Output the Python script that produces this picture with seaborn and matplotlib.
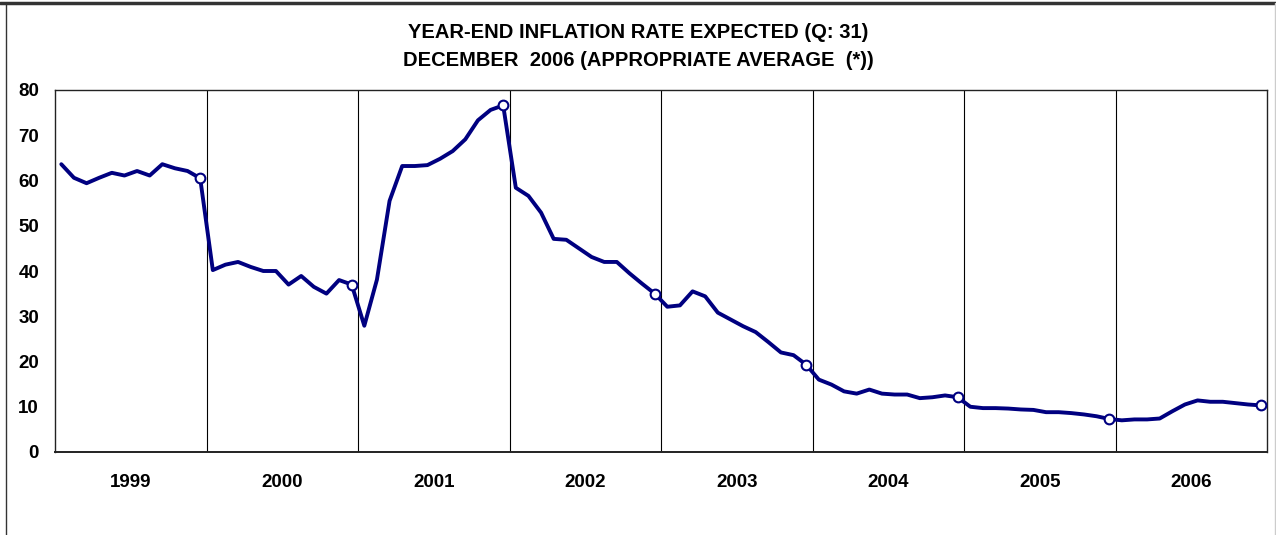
import numpy as np
import pandas as pd
import matplotlib
matplotlib.use('Agg')
import matplotlib.pyplot as plt
from matplotlib.lines import Line2D
import seaborn as sns

# Datos (valores mensuales, enero-diciembre de cada año).
years = ['1999', '2000', '2001', '2002', '2003', '2004', '2005', '2006']
v1999 = [63.6, 60.6, 59.4, 60.6, 61.7, 61.1, 62.1, 61.1, 63.6, 62.7, 62.1, 60.5]
v2000 = [40.2, 41.4, 42.0, 40.9, 40.0, 40.0, 37.0, 38.9, 36.5, 35.0, 38.0, 37.0]
v2001 = [27.9, 38.1, 55.5, 63.2, 63.2, 63.4, 64.8, 66.5, 69.1, 73.3, 75.6, 76.6]
v2002 = [58.4, 56.6, 52.9, 47.1, 46.9, 45.0, 43.1, 42.0, 42.0, 39.5, 37.2, 35.0]
v2003 = [32.1, 32.4, 35.5, 34.4, 30.8, 29.3, 27.8, 26.5, 24.3, 22.0, 21.4, 19.3]
v2004 = [16.0, 14.9, 13.4, 12.9, 13.8, 12.9, 12.7, 12.7, 11.9, 12.1, 12.5, 12.1]
v2005 = [10.0, 9.7, 9.7, 9.6, 9.4, 9.3, 8.8, 8.8, 8.6, 8.3, 7.9, 7.3]
v2006 = [7.0, 7.2, 7.2, 7.4, 9.0, 10.5, 11.4, 11.1, 11.1, 10.8, 10.5, 10.3]
y_ticks = [0, 10, 20, 30, 40, 50, 60, 70, 80]

title_1 = 'YEAR-END INFLATION RATE EXPECTED (Q: 31)'
title_2 = 'DECEMBER  2006 (APPROPRIATE AVERAGE  (*))'

# Armamos el DataFrame.
valores = v1999 + v2000 + v2001 + v2002 + v2003 + v2004 + v2005 + v2006
df = pd.DataFrame({
    'mes': np.arange(len(valores)) + 0.5,
    'valor': valores,
})
df_dic = df.iloc[11::12]

sns.set_style('white')
plt.rcParams['font.family'] = ['Liberation Sans', 'DejaVu Sans']
plt.rcParams['text.color'] = 'black'
plt.rcParams['xtick.color'] = 'black'
plt.rcParams['ytick.color'] = 'black'

fig = plt.figure(figsize=(12.76, 5.35), dpi=100)
ax = fig.add_axes([55 / 1276, 83 / 535, 1212 / 1276, 362 / 535])

# Separadores de año.
for i in range(1, len(years)):
    ax.axvline(i * 12, color='black', linewidth=0.8, zorder=1)

# Línea principal.
sns.lineplot(data=df, x='mes', y='valor', ax=ax, color='#000080', linewidth=2.8, zorder=3)

# Marcadores de diciembre.
ax.plot(df_dic['mes'], df_dic['valor'], linestyle='', marker='o', markersize=7,
        markerfacecolor='white', markeredgecolor='#000080', markeredgewidth=1.5, zorder=4)

ax.set_xlim(0, 12 * len(years))
ax.set_ylim(0, 80)
ax.set_yticks(y_ticks)
ax.set_yticklabels([str(t) for t in y_ticks], fontsize=13.5, fontweight='bold')
ax.set_xticks([12 * i + 6 for i in range(len(years))])
ax.set_xticklabels(years, fontsize=13.5, fontweight='bold')
ax.tick_params(axis='both', length=0)
ax.tick_params(axis='x', pad=16)
ax.tick_params(axis='y', pad=11.5)
ax.set_xlabel('')
ax.set_ylabel('')

for s in ax.spines.values():
    s.set_color('#222222')
    s.set_linewidth(1.0)
ax.spines['bottom'].set_linewidth(1.4)

# Título en dos líneas.
fig.text(0.5, 1 - 32 / 535, title_1, ha='center', va='center', fontsize=14.5, fontweight='bold')
fig.text(0.5, 1 - 60.5 / 535, title_2, ha='center', va='center', fontsize=14.5, fontweight='bold')

# Marco de la figura.
fig.add_artist(Line2D([0, 1], [1 - 2.5 / 535, 1 - 2.5 / 535], color='#333333', linewidth=2.5,
                      transform=fig.transFigure))
fig.add_artist(Line2D([6 / 1276, 6 / 1276], [0, 1 - 2.5 / 535], color='#333333', linewidth=1.0,
                      transform=fig.transFigure))
fig.add_artist(Line2D([1275 / 1276, 1275 / 1276], [0, 1 - 2.5 / 535], color='#cccccc', linewidth=1.0,
                      transform=fig.transFigure))

fig.savefig('out.png', dpi=100)
